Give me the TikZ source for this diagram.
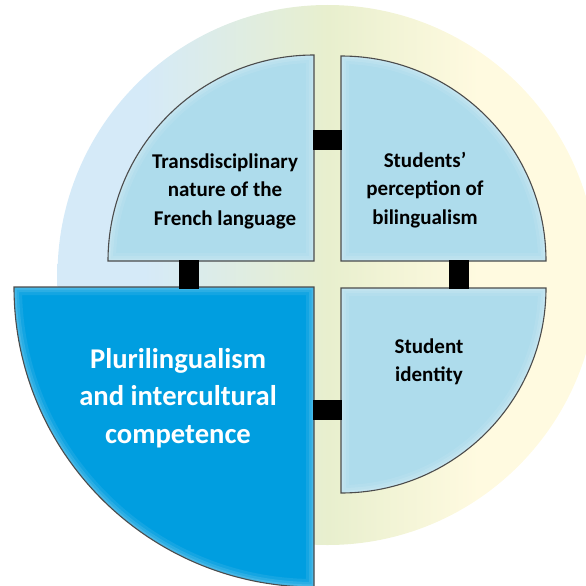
\documentclass[tikz,border=0pt]{standalone}
\usepackage{fontspec}
\setmainfont{Carlito}
\definecolor{bgL}{RGB}{213,234,248}
\definecolor{bgM}{RGB}{232,239,206}
\definecolor{bgR}{RGB}{255,250,224}
\definecolor{qblue}{RGB}{174,220,236}
\definecolor{qdark}{RGB}{0,158,224}
\pgfdeclarehorizontalshading{bgshade}{100bp}{color(0bp)=(bgL); color(25bp)=(bgL); color(33bp)=(bgL); color(50bp)=(bgM); color(64bp)=(bgR); color(75bp)=(bgR); color(100bp)=(bgR)}
\begin{document}
\begin{tikzpicture}[x=1pt,y=-1pt,
  border/.style={draw=black!70, line width=1.1pt},
  glowa/.style={white, opacity=0.08, line width=16pt},
  glowb/.style={white, opacity=0.10, line width=10pt},
  glowc/.style={white, opacity=0.12, line width=5pt},
  conn/.style={black, line width=20pt},
  lbl/.style={align=center, font=\fontsize{21}{28.5}\selectfont\bfseries, text=black},
  biglbl/.style={align=center, font=\fontsize{28.6}{37.5}\selectfont\bfseries, text=white}]
\useasboundingbox (0,0) rectangle (586,586);
% background disc
\shade[shading=bgshade] (327.5,275) circle[radius=270];
% quadrant paths
\path[save path=\ptl] (314,261) -- (108,261) arc[start angle=180, end angle=270, radius=206] -- cycle;
\path[save path=\ptr] (341,261) -- (341,56) arc[start angle=270, end angle=360, radius=205] -- cycle;
\path[save path=\pbr] (341,288) -- (546,288) arc[start angle=0, end angle=90, radius=205] -- cycle;
\path[save path=\pbl] (314,287) -- (314,587) arc[start angle=90, end angle=180, radius=300] -- cycle;
% fills with soft inner glow
\fill[qblue, use path=\ptl];
\begin{scope}\clip[use path=\ptl]; \draw[glowa, use path=\ptl]; \draw[glowb, use path=\ptl]; \draw[glowc, use path=\ptl]; \end{scope}
\fill[qblue, use path=\ptr];
\begin{scope}\clip[use path=\ptr]; \draw[glowa, use path=\ptr]; \draw[glowb, use path=\ptr]; \draw[glowc, use path=\ptr]; \end{scope}
\fill[qblue, use path=\pbr];
\begin{scope}\clip[use path=\pbr]; \draw[glowa, use path=\pbr]; \draw[glowb, use path=\pbr]; \draw[glowc, use path=\pbr]; \end{scope}
\fill[qdark, use path=\pbl];
\begin{scope}\clip[use path=\pbl]; \draw[glowa, use path=\pbl]; \draw[glowb, use path=\pbl]; \draw[glowc, use path=\pbl]; \end{scope}
% borders
\draw[border, use path=\ptl];
\draw[border, use path=\ptr];
\draw[border, use path=\pbr];
\draw[border, use path=\pbl];
% labels
\node[lbl] (tl) at (225,191) {Transdisciplinary\\nature of the\\French language};
\node[lbl] (tr) at (425,190) {Students’\\perception of\\bilingualism};
\node[lbl] (br) at (429,362) {Student\\identity};
\node[biglbl] (bl) at (178,398) {Plurilingualism\\and intercultural\\competence};
% connector end points on the quadrant edges
\coordinate (tlE) at (313,140);
\coordinate (trW) at (342,140);
\coordinate (tlS) at (189,260);
\coordinate (blN) at (189,289);
\coordinate (trS) at (458.5,260);
\coordinate (brN) at (458.5,289);
\coordinate (blE) at (313,409.5);
\coordinate (brW) at (342,409.5);
\draw[conn] (tlE) -- (trW);
\draw[conn] (tlS) -- (blN);
\draw[conn] (trS) -- (brN);
\draw[conn] (blE) -- (brW);
\end{tikzpicture}
\end{document}
